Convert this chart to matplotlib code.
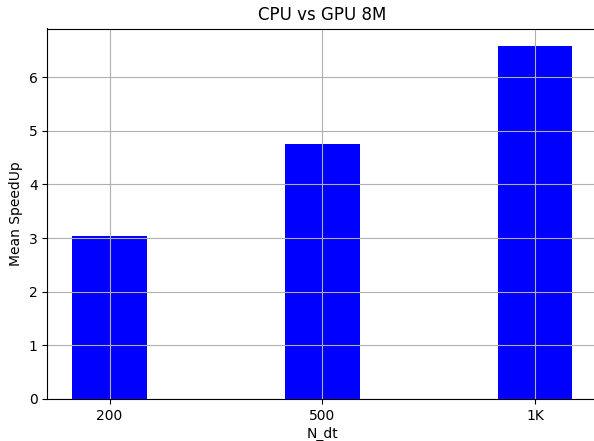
import matplotlib
matplotlib.use("Agg")
import matplotlib.pyplot as plt

labels = ["200", "500", "1K"]
speedup = [3.04, 4.75, 6.58]

fig = plt.figure(figsize=(5.94, 4.41), dpi=100)
# axes runs slightly past the right edge of the figure, as in the reference
ax = fig.add_axes([47.3 / 594, 42 / 441, 550 / 594, 370.5 / 441])

ax.bar(range(len(labels)), speedup, width=0.35, color="blue")
ax.set_xticks(range(len(labels)))
ax.set_xticklabels(labels)
ax.set_xlabel("N_dt", labelpad=3)
ax.set_ylabel("Mean SpeedUp")
ax.set_title("CPU vs GPU 8M")
ax.grid(True)

fig.savefig("out.png", dpi=100)
plt.close(fig)
